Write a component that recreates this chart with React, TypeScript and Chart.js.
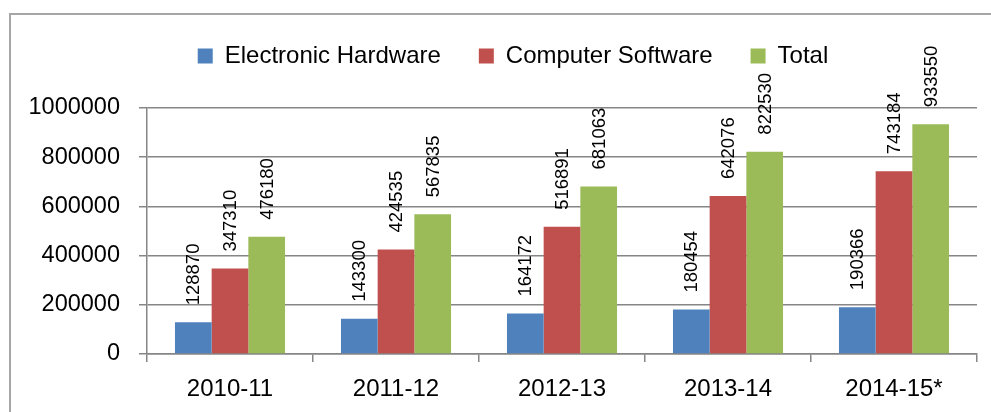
import React, { useEffect, useRef } from 'react';
import { Chart, registerables } from 'chart.js';

Chart.register(...registerables);

const categories = ['2010-11', '2011-12', '2012-13', '2013-14', '2014-15*'];
const hardware = [128870, 143300, 164172, 180454, 190366];
const software = [347310, 424535, 516891, 642076, 743184];
const total = [476180, 567835, 681063, 822530, 933550];
const seriesNames = ['Electronic Hardware', 'Computer Software', 'Total'];
const seriesColors = ['#4F81BD', '#C0504D', '#9BBB59'];
const yMin = 0;
const yMax = 1000000;
const yStep = 200000;

const FONT = "'Liberation Sans', Arial, sans-serif";
const GRID = '#868686';

const legendPlugin = {
  id: 'legendTweak',
  beforeLayout(chart: any) {
    const lg = chart.legend;
    if (lg && !lg._patched) {
      const orig = lg.fit;
      lg.fit = function () {
        orig.call(this);
        this.height = 102;
      };
      lg._patched = true;
    }
  },
  afterLayout(chart: any) {
    const lg = chart.legend;
    if (lg) {
      lg.left += 24.5;
      lg.right += 24.5;
    }
  },
};

const dataLabelPlugin = {
  id: 'dataLabels',
  afterDatasetsDraw(chart: any) {
    const ctx = chart.ctx;
    ctx.save();
    ctx.font = `18.5px ${FONT}`;
    ctx.fillStyle = '#000';
    ctx.textAlign = 'left';
    ctx.textBaseline = 'middle';
    chart.data.datasets.forEach((ds: any, di: number) => {
      const meta = chart.getDatasetMeta(di);
      meta.data.forEach((el: any, i: number) => {
        ctx.save();
        ctx.translate(el.x + 1, el.y - 17);
        ctx.rotate(-Math.PI / 2);
        ctx.fillText(String(ds.data[i]), 0, 0);
        ctx.restore();
      });
    });
    ctx.restore();
  },
};

export default function App() {
  const ref = useRef<HTMLCanvasElement>(null);
  useEffect(() => {
    if (!ref.current) return;
    const chart = new Chart(ref.current, {
      type: 'bar',
      data: {
        labels: categories,
        datasets: [hardware, software, total].map((d, i) => ({
          label: seriesNames[i],
          data: d,
          backgroundColor: seriesColors[i],
          borderWidth: 0,
          categoryPercentage: 0.663,
          barPercentage: 1,
        })),
      },
      options: {
        animation: false,
        responsive: false,
        layout: { padding: { left: 0, right: 14, top: 6, bottom: 0 } },
        plugins: {
          legend: {
            position: 'top',
            labels: {
              boxWidth: 15,
              boxHeight: 15,
              padding: 38,
              color: '#000',
              font: { family: FONT, size: 24 },
            },
          },
          tooltip: { enabled: false },
        },
        scales: {
          x: {
            grid: {
              offset: true,
              drawOnChartArea: false,
              drawTicks: true,
              tickLength: 8,
              color: GRID,
              lineWidth: 1.5,
            },
            border: { display: true, color: GRID, width: 1.5 },
            ticks: {
              color: '#000',
              padding: 13,
              font: { family: FONT, size: 24 },
              maxRotation: 0,
            },
            afterFit(scale: any) {
              scale.height = 58;
            },
          },
          y: {
            min: yMin,
            max: yMax,
            grid: {
              color: GRID,
              lineWidth: 1.5,
              drawTicks: true,
              tickLength: 8,
            },
            border: { display: true, color: GRID, width: 1.5 },
            ticks: {
              stepSize: yStep,
              color: '#000',
              padding: 19,
              font: { family: FONT, size: 23.5 },
              callback: (v: any) => String(v),
            },
            afterFit(scale: any) {
              scale.width = 147;
            },
          },
        },
      },
      plugins: [legendPlugin, dataLabelPlugin],
    });
    return () => chart.destroy();
  }, []);

  return (
    <div style={{ position: 'absolute', left: 0, top: 0, width: 991, height: 412, overflow: 'hidden', background: '#fff' }}>
      <div
        style={{
          position: 'absolute',
          left: 9,
          top: 13,
          width: 1100,
          height: 500,
          borderLeft: '2px solid #a6a6a6',
          borderTop: '2px solid #a6a6a6',
        }}
      />
      <canvas
        ref={ref}
        width={991}
        height={412}
        style={{ position: 'absolute', left: 0, top: 0, width: 991, height: 412 }}
      />
    </div>
  );
}
